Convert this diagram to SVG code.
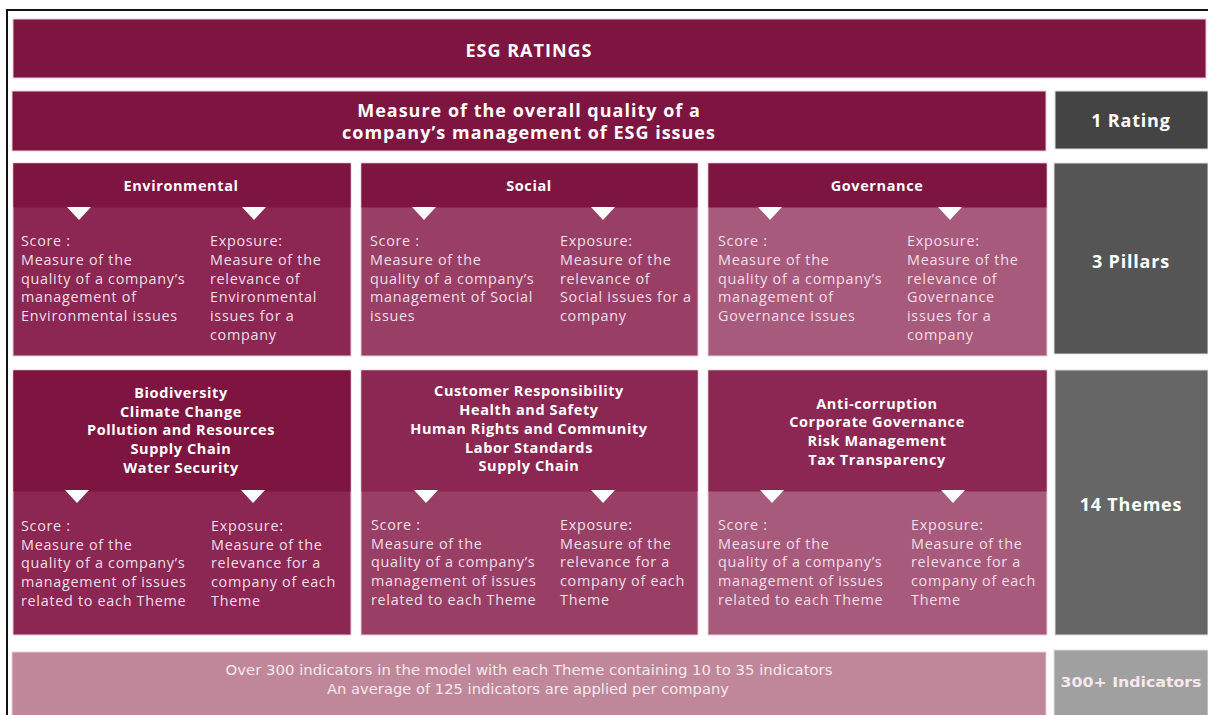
<svg xmlns="http://www.w3.org/2000/svg" width="1208" height="715" viewBox="0 0 1208 715">
  <style>
    .bg { fill: #ffffff; }
    .dark { fill: #7d1540; }
    .mid { fill: #8b2752; }
    .soc { fill: #993f66; }
    .gov { fill: #a85a7c; }
    .box { stroke: #e6cfd9; stroke-width: 1; }
    .tri { fill: #ffffff; }
    .title { font-family: "Open Sans", "Liberation Sans", sans-serif; font-weight: bold; font-size: 18px; letter-spacing: 1px; fill: #ffffff; text-anchor: middle; }
    .head { font-family: "Open Sans", "Liberation Sans", sans-serif; font-weight: bold; font-size: 14.5px; letter-spacing: 0.6px; fill: #ffffff; text-anchor: middle; }
    .body { font-family: "Open Sans", "Liberation Sans", sans-serif; font-size: 14.4px; letter-spacing: 0.7px; fill: #f1dfe7; }
    .label { font-family: "Open Sans", "Liberation Sans", sans-serif; font-weight: bold; font-size: 18px; letter-spacing: 0.8px; fill: #ffffff; text-anchor: middle; }
    .note { font-family: "DejaVu Sans Condensed", "Liberation Sans Narrow", sans-serif; font-size: 14px; fill: #f6e8ee; text-anchor: middle; }
  </style>
  <rect class="bg" x="0" y="0" width="1208" height="715"/>

  <!-- outer frame -->
  <path d="M7 715 V10 H1208" fill="none" stroke="#111111" stroke-width="2"/>

  <g id="esg-title">
    <rect class="dark box" x="13" y="19" width="1193" height="59"/>
    <text class="title" x="529" y="57" letter-spacing="1.5">ESG RATINGS</text>
  </g>

  <g id="overall">
    <rect class="dark box" x="12" y="91" width="1034" height="60"/>
    <text class="title" x="529" y="117">Measure of the overall quality of a</text>
    <text class="title" x="529" y="139">company’s management of ESG issues</text>
  </g>

  <g id="level-rating">
    <rect x="1055" y="91" width="153" height="58" fill="#444444" stroke="#dddddd" stroke-width="1"/>
    <text class="label" x="1131" y="127">1 Rating</text>
  </g>

  <!-- pillars -->
  <g id="pillar-environmental">
    <rect class="mid box" x="13" y="163" width="338" height="193"/>
    <rect class="dark" x="13.5" y="163.5" width="337" height="44"/>
    <text class="head" x="181" y="191">Environmental</text>
    <polygon class="tri" points="67,207 91,207 79,220"/>
    <polygon class="tri" points="242,207 266,207 254,220"/>
    <text class="body" x="21" y="246">Score :</text>
    <text class="body" x="21" y="265">Measure of the</text>
    <text class="body" x="21" y="284">quality of a company’s</text>
    <text class="body" x="21" y="302">management of</text>
    <text class="body" x="21" y="321">Environmental issues</text>
    <text class="body" x="210" y="246">Exposure:</text>
    <text class="body" x="210" y="265">Measure of the</text>
    <text class="body" x="210" y="284">relevance of</text>
    <text class="body" x="210" y="302">Environmental</text>
    <text class="body" x="210" y="321">issues for a</text>
    <text class="body" x="210" y="340">company</text>
  </g>

  <g id="pillar-social">
    <rect class="soc box" x="361" y="163" width="337" height="193"/>
    <rect class="dark" x="361.5" y="163.5" width="336" height="44"/>
    <text class="head" x="529" y="191">Social</text>
    <polygon class="tri" points="412,207 436,207 424,220"/>
    <polygon class="tri" points="591,207 615,207 603,220"/>
    <text class="body" x="370" y="246">Score :</text>
    <text class="body" x="370" y="265">Measure of the</text>
    <text class="body" x="370" y="284">quality of a company’s</text>
    <text class="body" x="370" y="302">management of Social</text>
    <text class="body" x="370" y="321">issues</text>
    <text class="body" x="560" y="246">Exposure:</text>
    <text class="body" x="560" y="265">Measure of the</text>
    <text class="body" x="560" y="284">relevance of</text>
    <text class="body" x="560" y="302">Social issues for a</text>
    <text class="body" x="560" y="321">company</text>
  </g>

  <g id="pillar-governance">
    <rect class="gov box" x="708" y="163" width="339" height="193"/>
    <rect class="dark" x="708.5" y="163.5" width="338" height="44"/>
    <text class="head" x="877" y="191">Governance</text>
    <polygon class="tri" points="758,207 782,207 770,220"/>
    <polygon class="tri" points="938,207 962,207 950,220"/>
    <text class="body" x="718" y="246">Score :</text>
    <text class="body" x="718" y="265">Measure of the</text>
    <text class="body" x="718" y="284">quality of a company’s</text>
    <text class="body" x="718" y="302">management of</text>
    <text class="body" x="718" y="321">Governance issues</text>
    <text class="body" x="907" y="246">Exposure:</text>
    <text class="body" x="907" y="265">Measure of the</text>
    <text class="body" x="907" y="284">relevance of</text>
    <text class="body" x="907" y="302">Governance</text>
    <text class="body" x="907" y="321">issues for a</text>
    <text class="body" x="907" y="340">company</text>
  </g>

  <g id="level-pillars">
    <rect x="1054" y="163" width="154" height="191" fill="#555555" stroke="#dddddd" stroke-width="1"/>
    <text class="label" x="1131" y="268">3 Pillars</text>
  </g>

  <!-- themes -->
  <g id="themes-environmental">
    <rect class="mid box" x="13" y="370" width="338" height="265"/>
    <rect class="dark" x="13.5" y="370.5" width="337" height="121"/>
    <text class="head" x="181" y="398">Biodiversity</text>
    <text class="head" x="181" y="417">Climate Change</text>
    <text class="head" x="181" y="435">Pollution and Resources</text>
    <text class="head" x="181" y="454">Supply Chain</text>
    <text class="head" x="181" y="473">Water Security</text>
    <polygon class="tri" points="65,490 89,490 77,503"/>
    <polygon class="tri" points="241,490 265,490 253,503"/>
    <text class="body" x="21" y="531">Score :</text>
    <text class="body" x="21" y="550">Measure of the</text>
    <text class="body" x="21" y="568">quality of a company’s</text>
    <text class="body" x="21" y="587">management of issues</text>
    <text class="body" x="21" y="606">related to each Theme</text>
    <text class="body" x="211" y="531">Exposure:</text>
    <text class="body" x="211" y="550">Measure of the</text>
    <text class="body" x="211" y="568">relevance for a</text>
    <text class="body" x="211" y="587">company of each</text>
    <text class="body" x="211" y="606">Theme</text>
  </g>

  <g id="themes-social">
    <rect class="soc box" x="361" y="370" width="337" height="265"/>
    <rect class="mid" x="361.5" y="370.5" width="336" height="121"/>
    <text class="head" x="529" y="396">Customer Responsibility</text>
    <text class="head" x="529" y="415">Health and Safety</text>
    <text class="head" x="529" y="434">Human Rights and Community</text>
    <text class="head" x="529" y="453">Labor Standards</text>
    <text class="head" x="529" y="471">Supply Chain</text>
    <polygon class="tri" points="414,490 438,490 426,503"/>
    <polygon class="tri" points="591,490 615,490 603,503"/>
    <text class="body" x="371" y="530">Score :</text>
    <text class="body" x="371" y="549">Measure of the</text>
    <text class="body" x="371" y="567">quality of a company’s</text>
    <text class="body" x="371" y="586">management of issues</text>
    <text class="body" x="371" y="605">related to each Theme</text>
    <text class="body" x="560" y="530">Exposure:</text>
    <text class="body" x="560" y="549">Measure of the</text>
    <text class="body" x="560" y="567">relevance for a</text>
    <text class="body" x="560" y="586">company of each</text>
    <text class="body" x="560" y="605">Theme</text>
  </g>

  <g id="themes-governance">
    <rect class="gov box" x="708" y="370" width="339" height="265"/>
    <rect class="mid" x="708.5" y="370.5" width="338" height="121"/>
    <text class="head" x="877" y="409">Anti-corruption</text>
    <text class="head" x="877" y="427">Corporate Governance</text>
    <text class="head" x="877" y="446">Risk Management</text>
    <text class="head" x="877" y="465">Tax Transparency</text>
    <polygon class="tri" points="760,490 784,490 772,503"/>
    <polygon class="tri" points="941,490 965,490 953,503"/>
    <text class="body" x="718" y="530">Score :</text>
    <text class="body" x="718" y="549">Measure of the</text>
    <text class="body" x="718" y="567">quality of a company’s</text>
    <text class="body" x="718" y="586">management of issues</text>
    <text class="body" x="718" y="605">related to each Theme</text>
    <text class="body" x="911" y="530">Exposure:</text>
    <text class="body" x="911" y="549">Measure of the</text>
    <text class="body" x="911" y="567">relevance for a</text>
    <text class="body" x="911" y="586">company of each</text>
    <text class="body" x="911" y="605">Theme</text>
  </g>

  <g id="level-themes">
    <rect x="1055" y="370" width="153" height="265" fill="#666666" stroke="#dddddd" stroke-width="1"/>
    <text class="label" x="1131" y="511">14 Themes</text>
  </g>

  <!-- indicators -->
  <g id="indicators">
    <rect x="12" y="652" width="1034" height="64" fill="#bf8799" stroke="#e6cfd9" stroke-width="1"/>
    <text class="note" x="529" y="675" textLength="607" lengthAdjust="spacingAndGlyphs">Over 300 indicators in the model with each Theme containing 10 to 35 indicators</text>
    <text class="note" x="528" y="694" textLength="402" lengthAdjust="spacingAndGlyphs">An average of 125 indicators are applied per company</text>
  </g>

  <g id="level-indicators">
    <rect x="1054" y="650" width="154" height="66" fill="#a0a0a0" stroke="#dddddd" stroke-width="1"/>
    <text class="note" x="1131" y="687" font-size="21" font-weight="bold" fill="#ffffff" textLength="141" lengthAdjust="spacingAndGlyphs">300+ Indicators</text>
  </g>

  <!-- connectors: none; the levels are shown as stacked blocks -->
  <g id="connectors"/>
</svg>
